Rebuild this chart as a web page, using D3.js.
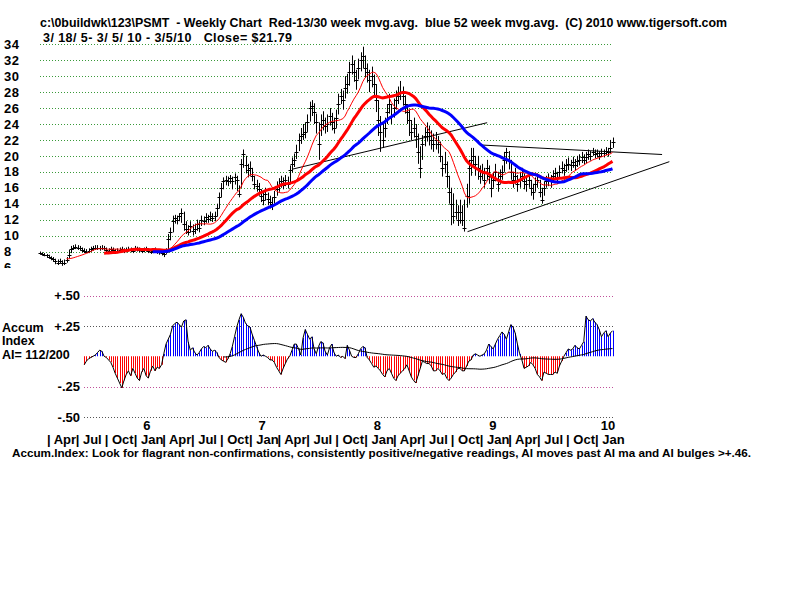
<!DOCTYPE html>
<html>
<head>
<meta charset="utf-8">
<script src="https://cdn.jsdelivr.net/npm/d3@7"></script>
<style>
body { margin: 0; background: #fff; }
svg text { font-family: Arial, "Liberation Sans", sans-serif; font-weight: bold; fill: #000; white-space: pre; }
</style>
</head>
<body>
<script>
// weekly closes, 3/18/05 .. 3/5/10
const closes = [
7.8,7.7,7.6,7.5,7.3,7.2,7.0,6.8,6.6,6.8,
6.5,6.6,6.9,7.6,8.3,8.5,8.6,8.5,8.4,8.2,
8.1,8.0,8.1,8.3,8.4,8.5,8.5,8.4,8.5,8.4,
8.2,8.1,8.3,8.2,8.0,8.1,8.2,8.3,8.1,8.2,
8.3,8.2,8.1,8.4,8.3,8.2,8.1,8.2,8.3,8.1,
8.0,8.1,8.2,8.0,7.9,7.8,7.7,8.0,9.6,10.5,
11.8,12.2,12.0,12.4,12.8,11.5,10.8,10.5,11.2,10.6,
10.8,11.5,11.0,12.0,11.8,12.3,12.1,12.5,12.2,12.4,
13.5,14.8,16.0,16.8,17.0,16.9,17.2,16.8,17.3,17.0,
15.2,19.0,20.2,18.8,18.2,18.5,17.5,16.5,16.2,15.8,
15.0,14.5,15.2,14.6,14.2,13.9,14.8,15.9,16.3,16.8,
16.4,17.0,16.5,18.2,19.0,19.5,20.5,22.0,22.5,22.8,
23.0,24.2,26.0,26.3,25.5,24.2,21.5,24.0,24.5,23.8,
24.0,25.0,24.3,23.5,24.8,26.5,27.5,27.0,28.5,29.0,
30.5,31.5,30.5,29.5,31.0,32.0,32.5,31.0,30.5,29.5,
30.0,29.0,27.0,24.5,23.0,22.0,23.5,25.5,26.5,25.0,
26.0,27.0,27.5,28.0,27.5,26.5,25.5,24.5,23.0,23.5,
22.5,20.5,18.5,21.5,22.5,23.0,22.5,22.0,21.5,22.0,
21.5,20.0,18.5,19.0,17.5,15.5,14.0,12.5,13.0,12.0,
13.0,12.0,11.0,15.0,18.5,19.5,20.0,19.0,18.5,17.5,
18.0,17.0,18.5,17.5,16.0,17.0,18.0,16.5,17.5,18.0,
19.5,20.5,19.5,18.0,17.0,17.5,16.5,17.0,17.5,16.8,
16.5,17.0,16.0,15.5,16.5,17.0,15.5,14.5,16.0,16.8,
17.0,16.8,17.5,17.8,17.2,18.0,18.5,18.2,18.8,19.0,
18.8,19.2,18.9,19.3,19.5,19.8,19.5,19.8,20.2,20.0,
20.5,20.2,20.3,20.0,20.4,20.3,20.6,20.5,21.0,21.79
];
const highs = [
8.0,7.9,7.8,7.7,7.6,7.4,7.3,7.1,7.0,7.1,
6.9,7.0,7.3,8.2,8.7,8.8,8.9,8.8,8.7,8.5,
8.4,8.3,8.4,8.6,8.7,8.8,8.8,8.7,8.8,8.7,
8.5,8.4,8.6,8.5,8.3,8.4,8.5,8.6,8.4,8.5,
8.6,8.5,8.4,8.7,8.6,8.5,8.4,8.5,8.6,8.4,
8.3,8.4,8.5,8.3,8.2,8.1,8.0,8.4,10.2,11.0,
12.5,12.6,12.5,12.8,13.4,13.0,11.8,11.3,11.8,11.4,
11.5,12.0,11.8,12.5,12.4,12.8,12.6,13.0,12.8,13.0,
14.0,15.4,16.6,17.3,17.5,17.4,17.6,17.4,17.8,17.5,
16.3,19.6,20.8,20.0,19.0,19.3,18.5,17.5,17.0,16.6,
15.8,15.6,16.0,15.4,15.0,14.8,15.6,16.8,17.2,17.5,
17.3,17.6,17.4,18.8,19.8,20.3,21.4,22.8,23.5,24.0,
24.2,25.2,26.8,27.0,26.6,25.3,24.2,25.2,25.6,24.8,
25.2,26.0,25.4,24.8,25.8,27.8,28.4,28.2,30.0,30.3,
31.8,32.6,32.0,30.8,32.2,33.0,33.7,32.6,31.6,30.8,
31.2,30.2,29.0,27.0,25.0,24.0,24.8,26.5,27.8,26.5,
27.2,28.2,28.7,29.4,28.7,27.6,26.5,25.8,24.5,24.8,
24.0,22.8,21.2,22.6,23.6,24.2,23.8,23.2,22.8,23.0,
22.5,21.8,20.0,20.5,19.3,17.5,16.0,15.3,14.5,13.8,
14.5,13.8,14.5,16.5,19.5,21.0,21.0,20.0,20.0,18.8,
19.0,18.5,19.5,18.8,17.5,18.0,19.0,18.0,18.3,18.8,
20.5,21.0,20.6,19.5,18.0,18.5,17.6,18.0,18.5,17.8,
17.3,17.8,17.0,16.5,17.3,17.8,17.0,16.0,16.8,17.5,
17.8,17.6,18.2,18.5,18.0,18.8,19.3,19.0,19.6,19.8,
19.5,19.9,19.6,20.0,20.2,20.5,20.2,20.5,20.8,20.6,
21.0,20.8,20.8,20.6,20.9,20.8,21.1,21.0,22.0,22.3
];
const lows = [
7.6,7.5,7.4,7.2,7.1,6.9,6.7,6.4,6.3,6.5,
6.2,6.3,6.6,7.1,7.8,8.2,8.3,8.2,8.1,7.9,
7.8,7.8,7.8,8.0,8.1,8.2,8.2,8.1,8.2,8.1,
7.9,7.8,8.0,7.9,7.7,7.8,7.9,8.0,7.8,7.9,
8.0,7.9,7.8,8.1,8.0,7.9,7.8,7.9,8.0,7.8,
7.7,7.8,7.9,7.7,7.6,7.5,7.3,7.7,8.0,9.4,
10.4,11.5,11.4,11.8,11.6,10.6,10.2,10.0,10.4,10.0,
10.2,10.6,10.4,11.2,11.3,11.6,11.6,11.8,11.7,11.8,
12.4,13.4,14.8,15.8,16.3,16.2,16.5,15.8,16.4,15.6,
14.8,16.0,18.5,17.8,17.3,17.5,16.8,15.8,15.5,15.0,
14.2,13.8,14.4,13.8,13.4,13.2,14.0,15.0,15.5,16.0,
15.8,16.2,15.9,16.5,17.9,18.6,19.6,20.6,21.5,22.0,
22.2,23.0,24.3,25.0,24.0,22.8,19.5,22.5,23.2,22.8,
23.0,23.8,23.2,22.8,23.5,25.2,26.5,25.8,27.2,27.8,
28.8,30.2,29.3,28.3,29.6,30.6,31.0,29.8,29.2,28.0,
28.6,27.5,25.5,22.5,20.5,21.0,22.3,24.0,25.3,24.0,
24.8,25.8,26.5,27.0,26.3,25.3,24.0,22.5,22.0,22.3,
21.0,19.0,17.2,19.5,21.2,21.8,21.3,20.8,20.5,20.8,
20.3,19.2,17.4,17.8,16.0,14.0,11.3,11.5,12.0,11.2,
11.5,11.2,10.5,13.5,14.0,17.5,18.6,17.5,17.0,16.5,
17.0,16.0,17.0,16.5,14.8,16.0,16.8,15.5,16.5,17.0,
18.0,19.0,18.3,17.0,16.0,16.5,15.5,16.0,16.8,15.8,
15.5,16.0,15.0,14.5,15.5,16.0,14.8,14.0,15.0,16.0,
16.2,16.0,16.8,17.0,16.5,17.2,17.8,17.5,18.0,18.2,
18.1,18.5,18.2,18.6,18.8,19.1,18.9,19.1,19.5,19.4,
20.0,19.7,19.8,19.5,19.9,19.8,20.1,19.9,20.3,21.0
];
// Accum index, weekly, starting at week 20
const aiFirstWeek = 20;
const aiValues = [
-0.07,-0.04,-0.02,-0.01,0.0,0.01,0.03,0.05,0.04,0.0,
-0.01,-0.03,-0.05,-0.09,-0.14,-0.18,-0.22,-0.26,-0.2,-0.15,
-0.12,-0.16,-0.1,-0.14,-0.18,-0.2,-0.13,-0.1,-0.16,-0.18,
-0.12,-0.08,-0.12,-0.09,-0.1,-0.07,0.02,0.1,0.14,0.18,
0.25,0.27,0.28,0.26,0.24,0.29,0.3,0.12,0.05,0.07,
0.03,0.01,0.03,0.06,0.08,0.07,0.09,0.06,0.04,0.05,
0.03,-0.01,-0.03,-0.04,-0.05,-0.02,0.02,0.08,0.16,0.24,
0.3,0.35,0.32,0.27,0.25,0.24,0.18,0.13,0.08,0.03,
0.0,0.01,0.0,-0.01,-0.03,-0.03,-0.05,-0.09,-0.12,-0.15,
-0.1,-0.06,-0.02,0.0,0.05,0.1,0.1,0.06,0.01,0.15,
0.22,0.18,0.14,0.16,0.06,0.02,0.08,0.12,0.11,0.04,
0.01,0.07,0.1,0.03,0.0,0.01,-0.01,0.0,-0.02,0.09,
0.05,0.0,-0.01,-0.01,0.02,0.06,0.08,0.07,-0.01,-0.03,
-0.06,-0.09,-0.08,-0.1,-0.12,-0.15,-0.17,-0.12,-0.1,-0.14,
-0.18,-0.2,-0.16,-0.14,-0.12,-0.1,-0.07,-0.12,-0.17,-0.2,
-0.22,-0.16,-0.1,-0.04,-0.05,-0.06,-0.06,-0.08,-0.12,-0.12,
-0.1,-0.12,-0.15,-0.14,-0.18,-0.2,-0.18,-0.15,-0.13,-0.1,
-0.1,-0.12,-0.12,-0.08,-0.04,-0.03,0.01,0.02,0.01,0.0,
0.01,0.02,0.05,0.1,0.08,0.06,0.1,0.14,0.17,0.2,
0.18,0.14,0.2,0.26,0.24,0.19,0.1,0.02,-0.03,-0.1,
-0.09,-0.08,-0.05,-0.07,-0.1,-0.15,-0.17,-0.2,-0.13,-0.14,
-0.15,-0.15,-0.15,-0.13,-0.14,-0.08,-0.04,0.0,0.03,0.06,
0.05,0.06,0.09,0.07,0.06,0.09,0.12,0.33,0.3,0.29,
0.31,0.28,0.26,0.22,0.16,0.19,0.21,0.16,0.19,0.21
];
const aiMaFirstWeek = 83;
const priceTicks = [34,32,30,28,26,24,22,20,18,16,14,12,10,8,6];
const aiTicks = [0.5, 0.25, -0.25, -0.5];
// hand drawn trend lines [date, price]
const trendLines = [
  [["2007-05-28", 18.35], ["2009-02-01", 24.16]],
  [["2009-01-10", 21.37], ["2010-08-09", 20.17]],
  [["2008-12-01", 10.49], ["2010-09-01", 19.27]]
];
const titleLine1 = "c:\\0buildwk\\123\\PSMT  - Weekly Chart  Red-13/30 week mvg.avg.  blue 52 week mvg.avg.  (C) 2010 www.tigersoft.com";
const titleLine2 = "3/ 18/ 5- 3/ 5/ 10 - 3/5/10   Close= $21.79";
const footNote = "Accum.Index: Look for flagrant non-confirmations, consistently positive/negative readings, AI moves past AI ma and AI bulges >+.46.";
const aiLabels = ["Accum", "Index", "AI= 112/200"];

const svg = d3.select("body").append("svg").attr("width", 800).attr("height", 600);

const start = new Date(2005, 2, 18);
const dates = closes.map((c, i) => d3.timeDay.offset(start, i * 7));
const parse = d3.timeParse("%Y-%m-%d");

const x = d3.scaleTime().domain([start, dates[dates.length - 1]]).range([40, 612.5]);
const yP = d3.scaleLinear().domain([8, 34]).range([251.5, 44.3]);
const yA = d3.scaleLinear().domain([-0.5, 0.5]).range([417, 295.5]);
const px = d => Math.round(x(d)) + 0.5;

// fit a text to a target width by font size
function fitText(sel, width) {
  const w = sel.node().getComputedTextLength();
  const fs = parseFloat(sel.style("font-size"));
  sel.style("font-size", (fs * width / w).toFixed(2) + "px");
}

// titles
fitText(svg.append("text").attr("x", 40).attr("y", 27).style("font-size", "12px").text(titleLine1), 688);
svg.append("text").attr("x", 43).attr("y", 42).style("font-size", "12.5px")
  .attr("textLength", 249).attr("lengthAdjust", "spacing").text(titleLine2);

// price panel
svg.append("clipPath").attr("id", "pclip").append("rect")
  .attr("x", 0).attr("y", 30).attr("width", 800).attr("height", 238);
const pg = svg.append("g").attr("clip-path", "url(#pclip)");

pg.append("g").selectAll("line").data(priceTicks.filter(d => d >= 8)).join("line")
  .attr("x1", 40).attr("x2", 613)
  .attr("y1", d => Math.round(yP(d)) + 0.5).attr("y2", d => Math.round(yP(d)) + 0.5)
  .attr("stroke", "#3a9a3a").attr("stroke-dasharray", "1,2");

const yAxis = pg.append("g").attr("transform", "translate(4,0)")
  .call(d3.axisLeft(yP).tickValues(priceTicks).tickSize(0).tickFormat(d3.format("d")));
yAxis.select(".domain").remove();
yAxis.selectAll("text").attr("x", 0).attr("text-anchor", "start")
  .style("font-size", "13px").style("font-family", "Arial").attr("letter-spacing", "0.5px");

// weekly bars
const bars = pg.append("g").attr("stroke", "#000").attr("stroke-width", 1);
bars.selectAll("line.hl").data(closes).join("line").attr("class", "hl")
  .attr("x1", (d, i) => px(dates[i])).attr("x2", (d, i) => px(dates[i]))
  .attr("y1", (d, i) => yP(highs[i])).attr("y2", (d, i) => yP(lows[i]));
bars.selectAll("line.cl").data(closes).join("line").attr("class", "cl")
  .attr("x1", (d, i) => px(dates[i]) - 2).attr("x2", (d, i) => px(dates[i]) + 2)
  .attr("y1", d => Math.round(yP(d)) + 0.5).attr("y2", d => Math.round(yP(d)) + 0.5);

// trend lines
pg.append("g").selectAll("line").data(trendLines).join("line")
  .attr("x1", d => x(parse(d[0][0]))).attr("y1", d => yP(d[0][1]))
  .attr("x2", d => x(parse(d[1][0]))).attr("y2", d => yP(d[1][1]))
  .attr("stroke", "#000").attr("stroke-width", 1);

// moving averages
const movingAvg = (vals, n) => vals.map((v, i) => i < n - 1 ? null : d3.mean(vals.slice(i - n + 1, i + 1)));
const maLine = d3.line().defined(d => d.v != null).x(d => x(d.date)).y(d => yP(d.v));
[[13, "#ff0000", 1], [30, "#ff0000", 3], [52, "#0000ff", 3]].forEach(([n, col, w]) => {
  const ma = movingAvg(closes, n).map((v, i) => ({ date: dates[i], v }));
  pg.append("path").datum(ma).attr("d", maLine)
    .attr("fill", "none").attr("stroke", col).attr("stroke-width", w);
});

// Accum index panel
const aiDates = aiValues.map((v, i) => dates[i + aiFirstWeek]);
const ag = svg.append("g");
ag.selectAll("line.grid").data(aiTicks).join("line").attr("class", "grid")
  .attr("x1", 84).attr("x2", 614)
  .attr("y1", d => Math.round(yA(d)) + 0.5).attr("y2", d => Math.round(yA(d)) + 0.5)
  .attr("stroke", (d, i) => i % 2 === 0 ? "#c0509a" : "#555")
  .attr("stroke-dasharray", "1,2");

const aAxis = ag.append("g").attr("transform", "translate(80,0)")
  .call(d3.axisLeft(yA).tickValues(aiTicks).tickSize(0)
    .tickFormat(d => (d > 0 ? "+" : "-") + d3.format(".2f")(Math.abs(d)).replace(/^0/, "")));
aAxis.select(".domain").remove();
aAxis.selectAll("text").attr("x", 0).style("font-size", "13px").style("font-family", "Arial");

ag.append("g").selectAll("line").data(aiValues).join("line")
  .attr("x1", (d, i) => px(aiDates[i])).attr("x2", (d, i) => px(aiDates[i]))
  .attr("y1", yA(0)).attr("y2", d => yA(d))
  .attr("stroke", d => d >= 0 ? "#0000ff" : "#ff0000").attr("stroke-width", 1);

ag.append("path").datum(aiValues)
  .attr("d", d3.line().x((d, i) => x(aiDates[i])).y(d => yA(d)))
  .attr("fill", "none").attr("stroke", "#000").attr("stroke-width", 1);

const aiMa = movingAvg(aiValues, 52);
ag.append("path").datum(aiMa)
  .attr("d", d3.line().defined((d, i) => d != null && i + aiFirstWeek >= aiMaFirstWeek)
    .x((d, i) => x(aiDates[i])).y(d => yA(d)))
  .attr("fill", "none").attr("stroke", "#000").attr("stroke-width", 1);

ag.selectAll("text.lab").data(aiLabels).join("text").attr("class", "lab")
  .attr("x", 2).attr("y", (d, i) => 332 + i * 13.3)
  .style("font-size", "12.5px").text(d => d);

// time axis: years and quarters
const yearAxis = svg.append("g").attr("transform", "translate(0,418)")
  .call(d3.axisBottom(x).ticks(d3.timeYear.every(1)).tickSize(0)
    .tickFormat(d => String(d.getFullYear() % 100)));
yearAxis.select(".domain").remove();
yearAxis.selectAll("text").attr("dx", 15).style("font-size", "13px").style("font-family", "Arial");

const qAxis = svg.append("g").attr("transform", "translate(0,432)")
  .call(d3.axisBottom(x).ticks(d3.timeMonth.every(3)).tickSize(0)
    .tickFormat(d => "| " + d3.timeFormat("%b")(d)));
qAxis.select(".domain").remove();
qAxis.selectAll("text").attr("text-anchor", "start").attr("dx", 2)
  .style("font-size", "13px").style("font-family", "Arial");

fitText(svg.append("text").attr("x", 12).attr("y", 457).style("font-size", "12px").text(footNote), 740);
</script>
</body>
</html>
